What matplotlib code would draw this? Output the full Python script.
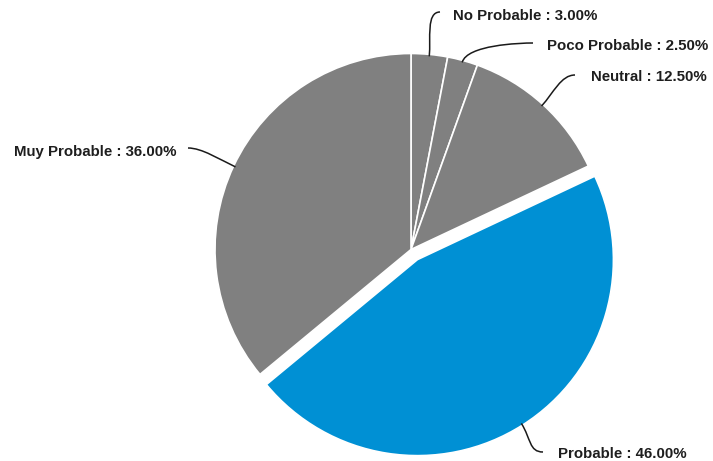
import numpy as np
import matplotlib
matplotlib.use("Agg")
import matplotlib.pyplot as plt
from matplotlib.path import Path
from matplotlib.patches import PathPatch

labels = ["No Probable", "Poco Probable", "Neutral", "Probable", "Muy Probable"]
values = [3.00, 2.50, 12.50, 46.00, 36.00]
colors = ["#808080", "#808080", "#808080", "#0090d4", "#808080"]

W, H = 713, 461
fig = plt.figure(figsize=(W / 100, H / 100), dpi=100)
ax = fig.add_axes([0, 0, 1, 1])

cx, cy, r = 411, H - 249.5, 196
# pull the "Probable" slice out of the pie (offset in pixels)
offsets = [12 if lab == "Probable" else 0 for lab in labels]
wedges, _ = ax.pie(values, colors=colors, explode=offsets, startangle=90,
                   counterclock=False, center=(cx, cy), radius=r,
                   wedgeprops=dict(edgecolor="white", linewidth=1.2))
ax.set_xlim(0, W)
ax.set_ylim(0, H)
ax.set_aspect("equal")
ax.axis("off")

# label placement: (line end x, line end y, text x, text y, ha)
layout = {
    "No Probable":   (440, 12, 453, 16, "left"),
    "Poco Probable": (533, 43, 547, 46, "left"),
    "Neutral":       (575, 75, 591, 77, "left"),
    "Probable":      (543, 452, 558, 454, "left"),
    "Muy Probable":  (188, 148, 177, 152, "right"),
}

for w, lab, val in zip(wedges, labels, values):
    mid = np.deg2rad((w.theta1 + w.theta2) / 2)
    wx, wy = w.center
    ux, uy = np.cos(mid), np.sin(mid)
    ax0, ay0 = wx + (r - 2) * ux, wy + (r - 2) * uy
    ex, ey, tx, ty, ha = layout[lab]
    ey, ty = H - ey, H - ty
    side = 1 if ha == "left" else -1
    p1 = (ax0 + ux * 18, ay0 + uy * 18)
    p2 = (ex - side * 14, ey)
    path = Path([(ax0, ay0), p1, p2, (ex, ey)],
                [Path.MOVETO, Path.CURVE4, Path.CURVE4, Path.CURVE4])
    ax.add_patch(PathPatch(path, fill=False, edgecolor="#1a1a1a", lw=1.1))
    ax.text(tx, ty, f"{lab} : {val:.2f}%", ha=ha, va="center",
            fontsize=10.8, fontweight="bold", family="Liberation Sans",
            color="#1e1e1e")

fig.savefig("out.png", dpi=100)
